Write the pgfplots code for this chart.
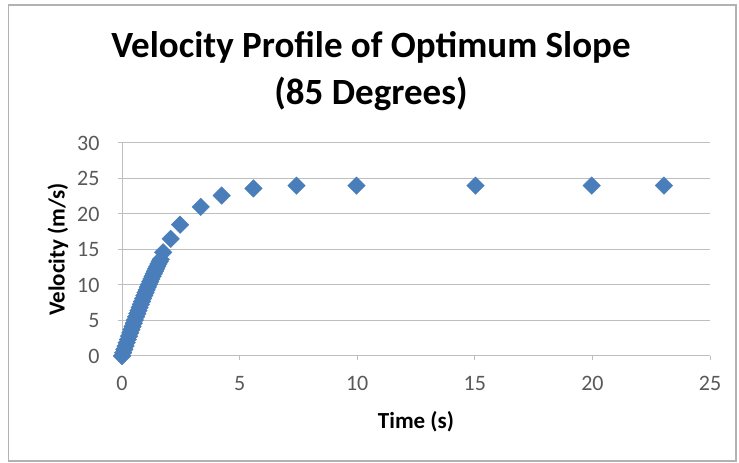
\documentclass[border=0pt]{standalone}
\usepackage{pgfplots}
\pgfplotsset{compat=1.18}
\usepackage{fontspec}
\setmainfont{Carlito}
\definecolor{excelblue}{RGB}{74,126,187}
\definecolor{gridgray}{RGB}{190,190,190}
\definecolor{ticktext}{RGB}{89,89,89}
\pgfplotstableread{
t v
0.00 0.00
0.05 0.468
0.10 0.936
0.15 1.402
0.20 1.868
0.25 2.333
0.30 2.795
0.35 3.256
0.40 3.714
0.45 4.169
0.50 4.621
0.55 5.071
0.60 5.516
0.65 5.957
0.70 6.395
0.75 6.828
0.80 7.256
0.85 7.680
0.90 8.099
0.95 8.513
1.00 8.913
1.05 9.31
1.10 9.71
1.15 10.10
1.20 10.47
1.25 10.85
1.30 11.22
1.35 11.58
1.40 11.94
1.45 12.29
1.50 12.63
1.55 12.96
1.60 13.30
1.65 13.61
1.75 14.6
2.07 16.5
2.47 18.5
3.35 21.0
4.24 22.6
5.59 23.6
7.42 24.0
9.97 24.0
15.03 24.0
19.97 24.0
23.04 24.0
}\velocity
\begin{document}
\begin{tikzpicture}
\path[use as bounding box] (0pt,0pt) rectangle (739pt,463pt);
\draw[gray!60, line width=1.5pt] (8.5pt,2pt) rectangle (736pt,458pt);
\node[font=\fontsize{37}{47}\selectfont\bfseries, align=center] at (371pt,392pt) {Velocity Profile of Optimum Slope\\(85 Degrees)};
\begin{axis}[
  at={(122pt,107pt)}, anchor=south west, scale only axis,
  width=588pt, height=213pt,
  xmin=0, xmax=25, ymin=0, ymax=30,
  xtick={0,5,...,25}, ytick={0,5,...,30},
  axis lines*=left,
  axis line style={gridgray, line width=1pt},
  ymajorgrids,
  major grid style={gridgray, line width=1pt},
  tick style={gridgray, line width=1pt},
  tick align=outside, major tick length=4pt,
  ticklabel style={font=\fontsize{22}{26}\selectfont, text=ticktext},
  /pgf/number format/assume math mode=true,
  xticklabel style={yshift=-13pt},
  yticklabel style={xshift=-15pt},
  xlabel={Time (s)},
  ylabel={Velocity (m/s)},
  label style={font=\fontsize{23}{27}\selectfont\bfseries},
  xlabel style={yshift=-14pt},
  ylabel style={yshift=2pt},
  clip=false,
]
\addplot[only marks, mark=square*, mark size=6.2pt,
  mark options={rotate=45, fill=excelblue, draw=excelblue}]
  table[x=t, y=v] {\velocity};
\end{axis}
\end{tikzpicture}
\end{document}
